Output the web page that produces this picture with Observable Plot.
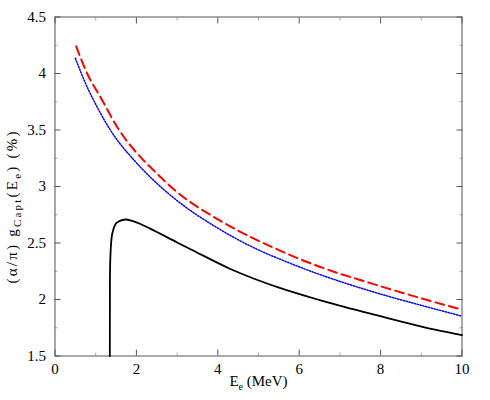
<!DOCTYPE html>
<html><head><meta charset="utf-8">
<script src="https://cdn.jsdelivr.net/npm/d3@7"></script>
<script src="https://cdn.jsdelivr.net/npm/@observablehq/plot@0.6"></script>
<style>
body{margin:0;background:#fff}
</style>
</head><body><div id="chart"></div>
<script>
// Black solid curve
const blackE = [1.347, 1.35, 1.364, 1.405, 1.53, 1.73, 1.9, 2.1, 2.35, 3.0, 3.33, 4.31, 5.54, 6.5, 7.75, 9.39, 10];
const blackG = [1.5, 2.2, 2.405, 2.58, 2.684, 2.708, 2.695, 2.668, 2.625, 2.505, 2.445, 2.27, 2.10, 1.995, 1.875, 1.728, 1.685];
// Blue dotted curve
const blueE = [0.5, 0.79, 1.04, 1.36, 1.95, 2.35, 3.0, 3.98, 5.05, 5.54, 6.5, 7.75, 9.0, 10];
const blueG = [4.135, 3.88, 3.70, 3.50, 3.23, 3.08, 2.875, 2.636, 2.43, 2.355, 2.222, 2.075, 1.948, 1.853];
// Red dashed curve
const redE = [0.52, 0.79, 1.12, 1.53, 2.18, 2.39, 3.0, 3.98, 5.5, 6.5, 7.75, 9.0, 10];
const redG = [4.24, 4.0, 3.79, 3.525, 3.23, 3.155, 2.95, 2.714, 2.437, 2.29, 2.145, 2.01, 1.91];

const xMajor = [0, 2, 4, 6, 8, 10];
const xMinor = [1, 3, 5, 7, 9];
const yMajor = [1.5, 2, 2.5, 3, 3.5, 4, 4.5];
const yMinor = [1.75, 2.25, 2.75, 3.25, 3.75, 4.25];
const xTickLabels = ["0", "2", "4", "6", "8", "10"];
const yTickLabels = ["1.5", "2", "2.5", "3", "3.5", "4", "4.5"];

const xLabelParts = [["E", false], ["e", true], [" (MeV)", false]];
const yLabelParts = [["(α/π) g", false], ["Capt", true], ["(E", false], ["e", true], [") (%)", false]];
const xLabel = xLabelParts.map(p => p[0]).join("");
const yLabel = yLabelParts.map(p => p[0]).join("");

const black = blackE.map((e, i) => ({e, g: blackG[i]}));
const blue = blueE.map((e, i) => ({e, g: blueG[i]}));
const red = redE.map((e, i) => ({e, g: redG[i]}));

const serif = "Liberation Serif";
const tickCol = "#555", minorCol = "#aaa";
const chart = Plot.plot({
  width: 490, height: 400,
  marginLeft: 54.5, marginRight: 28.5, marginTop: 16.5, marginBottom: 44.5,
  style: {background: "white", color: "black", fontFamily: serif, fontSize: "14px"},
  x: {domain: [0, 10]},
  y: {domain: [1.5, 4.5]},
  marks: [
    Plot.axisX(xMinor, {anchor: "bottom", tickSize: -3, tickFormat: () => "", label: null, stroke: minorCol}),
    Plot.axisX(xMinor, {anchor: "top", tickSize: -3, tickFormat: () => "", label: null, stroke: minorCol}),
    Plot.axisY(yMinor, {anchor: "left", tickSize: -3, tickFormat: () => "", label: null, stroke: minorCol}),
    Plot.axisY(yMinor, {anchor: "right", tickSize: -3, tickFormat: () => "", label: null, stroke: minorCol}),
    Plot.axisX(xMajor, {anchor: "bottom", tickSize: -6, tickFormat: () => "", label: null, stroke: tickCol}),
    Plot.axisX(xMajor, {anchor: "top", tickSize: -6, tickFormat: () => "", label: null, stroke: tickCol}),
    Plot.axisY(yMajor, {anchor: "left", tickSize: -6, tickFormat: () => "", label: null, stroke: tickCol}),
    Plot.axisY(yMajor, {anchor: "right", tickSize: -6, tickFormat: () => "", label: null, stroke: tickCol}),
    Plot.axisX(xMajor, {anchor: "bottom", tickSize: 0, tickPadding: 7, tickFormat: d => xTickLabels[xMajor.indexOf(d)], label: null, fontSize: 15}),
    Plot.axisY(yMajor, {anchor: "left", tickSize: 0, tickPadding: 9, tickFormat: d => yTickLabels[yMajor.indexOf(d)], label: null, fontSize: 15}),
    Plot.frame({stroke: tickCol}),
    Plot.line(black, {x: "e", y: "g", stroke: "black", strokeWidth: 1.8, curve: "monotone-x"}),
    Plot.line(blue, {x: "e", y: "g", stroke: "#0000ff", strokeWidth: 1.5, strokeDasharray: "1.3,1.6", curve: "monotone-x"}),
    Plot.line(red, {x: "e", y: "g", stroke: "#ff0000", strokeWidth: 2, strokeDasharray: "9,5", curve: "monotone-x"}),
    Plot.text([xLabel], {text: d => d, frameAnchor: "bottom", dy: 29.5, lineAnchor: "bottom", fontSize: 15}),
    Plot.text([yLabel], {text: d => d, frameAnchor: "left", dx: -38, dy: 21, rotate: -90, lineAnchor: "bottom", textAnchor: "middle", fontSize: 15})
  ]
});
document.getElementById("chart").appendChild(chart);

function subscriptify(svg, full, parts, subSize, shift, length) {
  for (const t of svg.querySelectorAll("text")) {
    if (t.textContent !== full) continue;
    while (t.firstChild) t.removeChild(t.firstChild);
    let shifted = false;
    for (const [s, sub] of parts) {
      const ts = document.createElementNS("http://www.w3.org/2000/svg", "tspan");
      ts.textContent = s;
      if (sub) { ts.setAttribute("font-size", subSize); if (!shifted) { ts.setAttribute("dy", shift); shifted = true; } }
      else if (shifted) { ts.setAttribute("dy", -shift); shifted = false; }
      t.appendChild(ts);
    }
    if (length) { t.setAttribute("textLength", length); t.setAttribute("lengthAdjust", "spacing"); }
  }
}
subscriptify(chart, xLabel, xLabelParts, 10, 4, null);
subscriptify(chart, yLabel, yLabelParts, 11, 4, 152);
for (const el of [chart, ...chart.querySelectorAll("g, text, tspan")]) {
  el.setAttribute("font-family", serif);
}
</script>
</body></html>
